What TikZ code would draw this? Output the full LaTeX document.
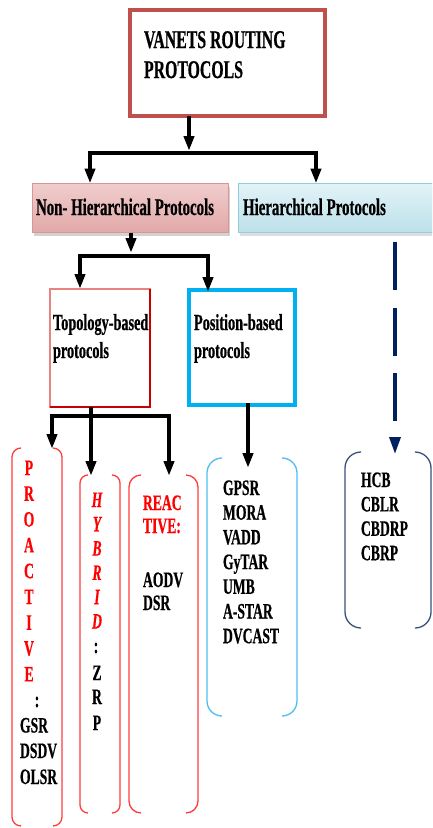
\documentclass[tikz,border=0pt]{standalone}
\usepackage{fontspec}
\setmainfont{Liberation Serif}[FakeStretch=0.62, BoldFeatures={FakeBold=0.6}, BoldItalicFeatures={FakeBold=0.6}]
\usetikzlibrary{arrows.meta,shadows}
\definecolor{topred}{RGB}{192,80,77}
\definecolor{nhfillA}{RGB}{240,205,205}
\definecolor{nhfillB}{RGB}{226,168,168}
\definecolor{nhdraw}{RGB}{217,150,148}
\definecolor{hfillA}{RGB}{226,243,247}
\definecolor{hfillB}{RGB}{188,224,234}
\definecolor{hdraw}{RGB}{147,205,221}
\definecolor{topored}{RGB}{200,0,0}
\definecolor{toposoft}{RGB}{235,130,130}
\definecolor{poscyan}{RGB}{0,176,240}
\definecolor{brred}{RGB}{255,60,60}
\definecolor{brblue}{RGB}{80,190,240}
\definecolor{brnavy}{RGB}{60,80,120}
\definecolor{navy}{RGB}{0,32,96}
\definecolor{txtred}{RGB}{255,0,0}
\begin{document}
\begin{tikzpicture}[x=1pt,y=-1pt,
  every node/.style={inner sep=0pt, outer sep=0pt},
  txt/.style={font=\bfseries\fontsize{22}{26}\selectfont, text=black},
  redtxt/.style={font=\bfseries\fontsize{22}{26}\selectfont, text=txtred},
  italred/.style={font=\bfseries\itshape\fontsize{22}{26}\selectfont, text=txtred},
  arr/.style={line width=4pt, draw=black, -{Triangle[width=10pt,length=15pt]}},
  bar/.style={line width=4.5pt, draw=black},
  brbox/.style={draw=none, fill=none, rectangle},
  brk/.style={line width=1.3pt},
  ]
\useasboundingbox (0,0) rectangle (432,828);
\clip (0,0) rectangle (432,828);
\fill[white] (0,0) rectangle (432,828);

% top box
\node[draw=topred, line width=3.5pt, minimum width=195pt, minimum height=106pt] (top) at (227.5,63) {};
\node[txt, font=\bfseries\fontsize{25.5}{30}\selectfont, anchor=base west] (t1) at (144,48) {VANETS ROUTING};
\node[txt, font=\bfseries\fontsize{25.5}{30}\selectfont, anchor=base west] (t2) at (144,78) {PROTOCOLS};

% second level boxes
\node[draw=nhdraw, line width=1pt, top color=nhfillA, bottom color=nhfillB,
  drop shadow={shadow xshift=2pt, shadow yshift=-3pt, fill=black!35},
  minimum width=196pt, minimum height=49pt] (nh) at (130,208) {};
\node[txt, font=\bfseries\fontsize{24}{28}\selectfont, anchor=base west] (nht) at (36,215) {Non- Hierarchical Protocols};
\node[draw=hdraw, line width=1pt, top color=hfillA, bottom color=hfillB,
  drop shadow={shadow xshift=2pt, shadow yshift=-3pt, fill=black!25},
  minimum width=210pt, minimum height=49pt] (hi) at (343,208) {};
\node[txt, font=\bfseries\fontsize{24}{28}\selectfont, anchor=base west] (hit) at (243,215) {Hierarchical Protocols};

% connectors from top
\coordinate (j1) at (189,151);
\coordinate (b1l) at (90,153);
\coordinate (b1r) at (316,153);
\draw[arr] (top.south -| j1) -- (j1);
\draw[bar] ([xshift=-2pt]b1l) -- ([xshift=2pt]b1r);
\draw[arr] (b1l) -- (nh.north -| b1l);
\draw[arr] (b1r) -- (hi.north -| b1r);

% third level boxes
\node[draw=toposoft, line width=1.3pt, fill=white, minimum width=100pt, minimum height=118pt] (topo) at (100,348) {};
\draw[topored, line width=1.6pt] (topo.north east) -- (topo.south east) -- (topo.south west);
\node[txt, font=\bfseries\fontsize{23}{28}\selectfont, anchor=base west] (tp1) at (53,330) {Topology-based};
\node[txt, font=\bfseries\fontsize{23}{28}\selectfont, anchor=base west] (tp2) at (53,358) {protocols};

\node[draw=poscyan, line width=4.5pt, fill=white, minimum width=106pt, minimum height=115pt] (pos) at (242,347.5) {};
\node[txt, font=\bfseries\fontsize{23}{28}\selectfont, anchor=base west] (ps1) at (194,330) {Position-based};
\node[txt, font=\bfseries\fontsize{23}{28}\selectfont, anchor=base west] (ps2) at (194,358) {protocols};

% connectors from non-hierarchical
\coordinate (j2) at (131,253);
\coordinate (b2l) at (80,256);
\coordinate (b2r) at (208,256);
\draw[arr] (nh.south -| j2) -- (j2);
\draw[bar] ([xshift=-2pt]b2l) -- ([xshift=2pt]b2r);
\draw[arr] (b2l) -- (topo.north -| b2l);
\draw[arr] (b2r) -- ([yshift=-2pt]pos.north -| b2r);

% bracket boxes
\node[brbox, minimum width=50pt, minimum height=378pt] (pro) at (37,637) {};
\node[brbox, minimum width=40pt, minimum height=338pt] (hyb) at (100,644) {};
\node[brbox, minimum width=69pt, minimum height=338pt] (rea) at (163.5,644) {};
\node[brbox, minimum width=90pt, minimum height=258pt] (posb) at (252,587) {};
\node[brbox, minimum width=86pt, minimum height=176pt] (hb) at (388,540) {};

\foreach \n/\r/\c in {pro/9/brred, hyb/8/brred, rea/12/brred, posb/15/brblue, hb/16/brnavy}{
  \draw[brk, draw=\c, rounded corners=\r pt] ([xshift=\r pt]\n.north west) -- (\n.north west) -- (\n.south west) -- ([xshift=\r pt]\n.south west);
  \draw[brk, draw=\c, rounded corners=\r pt] ([xshift=-\r pt]\n.north east) -- (\n.north east) -- (\n.south east) -- ([xshift=-\r pt]\n.south east);
}

% connectors from topology
\coordinate (b3l) at (52,416);
\coordinate (b3m) at (91,416);
\coordinate (b3r) at (169,416);
\draw[bar] ([xshift=-2pt]b3l) -- ([xshift=2pt]b3r);
\draw[arr] (topo.south -| b3m) -- ([yshift=-1pt]hyb.north -| b3m);
\draw[arr] (b3l) -- ([yshift=-1pt]pro.north -| b3l);
\draw[arr] (b3r) -- ([yshift=-1pt]rea.north -| b3r);

% connector from position
\coordinate (j4) at (248,0);
\draw[arr] ([yshift=2pt]pos.south -| j4) -- ([yshift=-10pt]posb.north -| j4);

% dashed connector from hierarchical
\coordinate (j5) at (395,242);
\draw[navy, line width=3.3pt, dash pattern=on 48pt off 17.5pt, -{Triangle[width=11pt,length=17pt]}] (j5) -- ([yshift=-2pt]hb.north -| j5);

% PROACTIVE column
\foreach \t [count=\i] in {P,R,O,A,C,T,I,V,E}
  \node[redtxt, anchor=base] (pa\i) at (29,{475+25.8*(\i-1)}) {\t};
\node[txt, anchor=base] (pacol) at (37,707) {:};
\node[txt, anchor=base west] (pa10) at (20,732.5) {GSR};
\node[txt, anchor=base west] (pa11) at (20,758) {DSDV};
\node[txt, anchor=base west] (pa12) at (20,784) {OLSR};

% HYBRID column
\foreach \t [count=\i] in {H,Y,B,R,I,D}
  \node[italred, anchor=base] (hy\i) at (97,{507+24.3*(\i-1)}) {\t};
\node[txt, anchor=base] (hycol) at (96,653) {:};
\node[txt, anchor=base] (hy7) at (97,680) {Z};
\node[txt, anchor=base] (hy8) at (97,704) {R};
\node[txt, anchor=base] (hy9) at (97,730) {P};

% REACTIVE column
\node[redtxt, anchor=base west] (re1) at (143,510) {REAC};
\node[redtxt, anchor=base west] (re2) at (143,533) {TIVE:};
\node[txt, anchor=base west] (re3) at (143,587) {AODV};
\node[txt, anchor=base west] (re4) at (143,610) {DSR};

% Position-based list
\foreach \t [count=\i] in {GPSR,MORA,VADD,GyTAR,UMB,A-STAR,DVCAST}
  \node[txt, anchor=base west] (pl\i) at (223,{495+24.7*(\i-1)}) {\t};

% Hierarchical list
\foreach \t [count=\i] in {HCB,CBLR,CBDRP,CBRP}
  \node[txt, anchor=base west] (hl\i) at (361,{487+24.4*(\i-1)}) {\t};
\end{tikzpicture}
\end{document}
